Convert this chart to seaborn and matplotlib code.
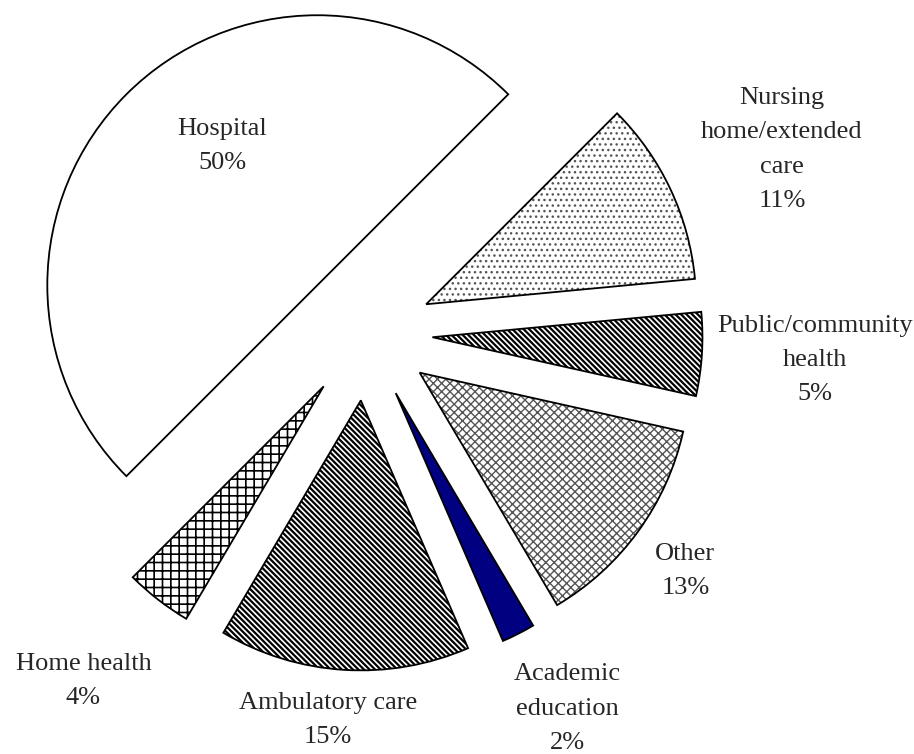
import matplotlib.pyplot as plt
import seaborn as sns
import numpy as np
from matplotlib.colors import to_rgba

# wedges go clockwise from the upper right, starting at 45 degrees
labels = ['Nursing\nhome/extended\ncare', 'Public/community\nhealth', 'Other',
          'Academic\neducation', 'Ambulatory care', 'Home health', 'Hospital']
shares = [11, 5, 13, 2, 15, 4, 50]

fills = ['white', 'white', 'white', '#000080', 'white', 'white', 'white']
hatches = ['...', '\\' * 6, 'xxxx', '', '\\' * 6, '++', '']
hatch_colors = ['#555555', 'black', '#555555', 'black', 'black', 'black', 'black']
hatch_widths = [1.0, 1.6, 1.0, 1.0, 1.6, 1.2, 1.0]
# label distance from the wedge tip and angle shift from its bisector
label_dist = [1.437, 1.42, 1.227, 1.33, 1.19, 1.408, 0.625]
label_turn = [-1.7, 0.2, -0.7, 1.5, -2.3, -1.4, -10.6]

sns.set_theme(style='white')
plt.rcParams['font.family'] = ['Liberation Serif', 'DejaVu Serif']

fig, ax = plt.subplots(figsize=(9.14, 7.54), dpi=100)
ax.set_position([0, 0, 1, 1])
wedges, _ = ax.pie(shares, explode=[0.25] * len(shares), startangle=45,
                   counterclock=False, colors=fills,
                   wedgeprops=dict(edgecolor='black', linewidth=1.3))

for i, w in enumerate(wedges):
    w.set_hatch(hatches[i])
    if hasattr(w, 'set_hatchcolor'):
        w.set_hatchcolor(hatch_colors[i])
    else:
        w._hatch_color = to_rgba(hatch_colors[i])
    if hasattr(w, 'set_hatch_linewidth'):
        w.set_hatch_linewidth(hatch_widths[i])
    ang = np.deg2rad((w.theta1 + w.theta2) / 2 + label_turn[i])
    cx, cy = w.center
    d = label_dist[i]
    ax.text(cx + d * np.cos(ang), cy + d * np.sin(ang), f'{labels[i]}\n{shares[i]}%',
            ha='center', va='center', fontsize=19, linespacing=1.72)

ax.set_xlim(-1.352, 2.033)
ax.set_ylim(-1.559, 1.233)
ax.axis('off')
fig.savefig('out.png', dpi=100)
